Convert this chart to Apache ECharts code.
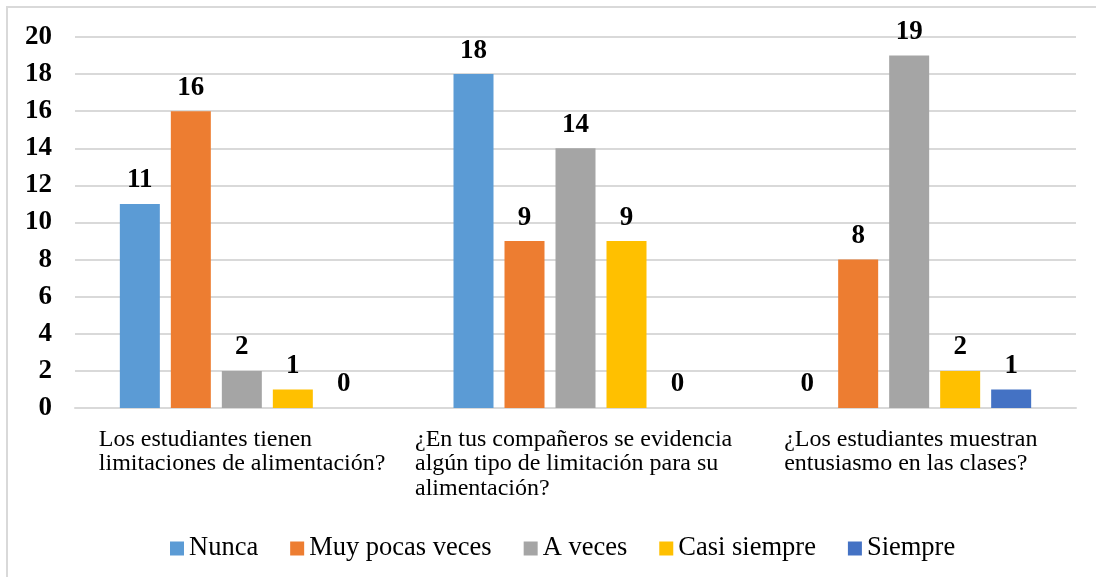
<!DOCTYPE html>
<html>
<head>
<meta charset="utf-8">
<script src="https://cdn.jsdelivr.net/npm/echarts@6/dist/echarts.min.js"></script>
<style>
html,body{margin:0;padding:0;background:#fff;}
#chart{width:1096px;height:577px;}
</style>
</head>
<body>
<div id="chart"></div>
<script>
const categories = [
  "Los estudiantes tienen\nlimitaciones de alimentación?",
  "¿En tus compañeros se evidencia\nalgún tipo de limitación para su\nalimentación?",
  "¿Los estudiantes muestran\nentusiasmo en las clases?"
];
const seriesNames = ["Nunca", "Muy pocas veces", "A veces", "Casi siempre", "Siempre"];
const nunca = [11, 18, 0];
const muyPocasVeces = [16, 9, 8];
const aVeces = [2, 14, 19];
const casiSiempre = [1, 9, 2];
const siempre = [0, 0, 1];
const yTicks = [0, 2, 4, 6, 8, 10, 12, 14, 16, 18, 20];

const colors = ["#5B9BD5", "#ED7D31", "#A5A5A5", "#FFC000", "#4472C4"];
const seriesData = [nunca, muyPocasVeces, aVeces, casiSiempre, siempre];
const FONT = '"Liberation Serif", "Times New Roman", serif';
const labelBlockWidths = [286, 321, 250];

const rich = {};
labelBlockWidths.forEach((w, i) => {
  rich['c' + i] = {
    width: w, align: 'left', fontSize: 24, lineHeight: 24.5,
    fontFamily: FONT, color: '#000'
  };
});

const chart = echarts.init(document.getElementById('chart'));
chart.setOption({
  animation: false,
  backgroundColor: '#fff',
  graphic: [{
    type: 'rect',
    shape: { x: 7, y: 7, width: 1300, height: 800 },
    style: { fill: 'none', stroke: '#d9d9d9', lineWidth: 2 },
    silent: true
  }],
  grid: { left: 75, right: 20, top: 37, bottom: 169 },
  legend: {
    data: seriesNames,
    left: 165,
    top: 530,
    itemWidth: 14,
    itemHeight: 14,
    itemGap: 32,
    icon: 'rect',
    textStyle: { fontFamily: FONT, fontSize: 26.5, color: '#000' }
  },
  xAxis: {
    type: 'category',
    data: categories,
    axisLine: { show: true, lineStyle: { color: '#d9d9d9', width: 2 } },
    axisTick: { show: false },
    axisLabel: {
      interval: 0,
      margin: 19,
      verticalAlign: 'top',
      formatter: (value, index) => value.split('\n').map(l => '{c' + index + '|' + l + '}').join('\n'),
      rich: rich
    }
  },
  yAxis: {
    type: 'value',
    min: yTicks[0],
    max: yTicks[yTicks.length - 1],
    interval: 2,
    axisLine: { show: false },
    axisTick: { show: false },
    splitLine: { lineStyle: { color: '#d9d9d9', width: 2 } },
    axisLabel: {
      margin: 23,
      fontFamily: FONT, fontSize: 27, fontWeight: 'bold', color: '#000'
    }
  },
  series: seriesNames.map((name, i) => ({
    name: name,
    type: 'bar',
    data: seriesData[i],
    barWidth: 40,
    barGap: '27.5%',
    itemStyle: { color: colors[i] },
    label: {
      show: true,
      position: 'top',
      distance: 10,
      fontFamily: FONT, fontSize: 27, fontWeight: 'bold', color: '#000'
    }
  }))
});
</script>
</body>
</html>
